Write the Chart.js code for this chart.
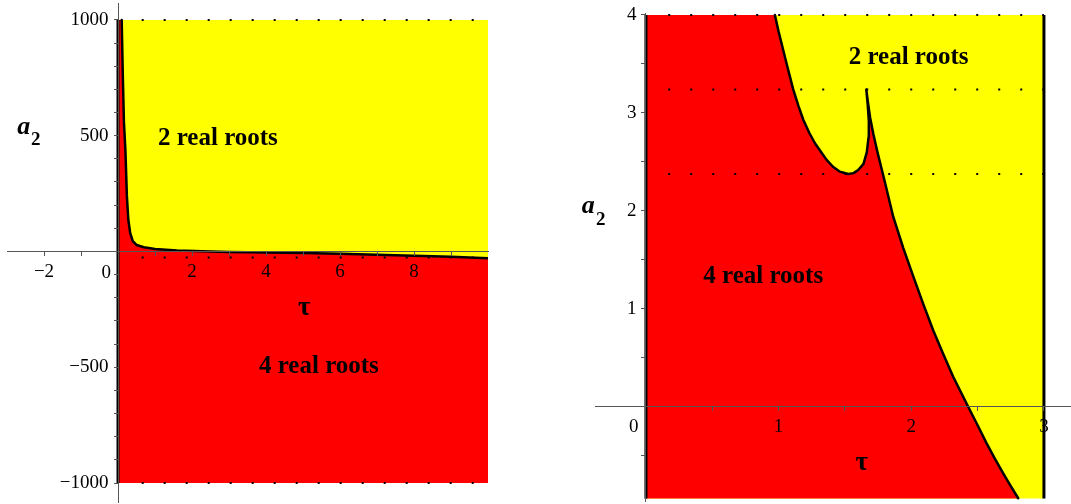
<!DOCTYPE html>
<html><head><meta charset="utf-8">
<script src="https://cdn.jsdelivr.net/npm/chart.js@4"></script>
<style>
html,body{margin:0;padding:0;background:#fff;}
#wrap{position:relative;width:1071px;height:504px;overflow:hidden;background:#fff;}
canvas{position:absolute;}
#cL{left:-30px;top:-30px;}
#cR{left:530px;top:-30px;}
</style></head><body>
<div id="wrap"><canvas id="cL" width="600" height="564"></canvas><canvas id="cR" width="571" height="564"></canvas></div>
<script>
// ---------- Left panel (wide view) ----------
const leftTau = [0.10, 0.13, 0.16, 0.20, 0.24, 0.28, 0.33, 0.40, 0.50, 0.70, 1.0, 1.6, 2.5, 3, 4, 5, 6, 7, 8, 9, 10];
const leftA2  = [1000, 760, 560, 438, 240, 136, 79, 45, 28, 18, 11, 4, 0, -2, -4, -7, -10, -14, -18, -23, -29];
const leftRegionTau = [0, 10];
const leftRegionA2 = [-1000, 1000];
const leftWallTau = [0];
const leftDotTau = [0.64, 9.8];
const leftDotLevels = [1000, -1000, -26];
const leftXTicks = [-2, -1, 1, 2, 3, 4, 5, 6, 7, 8, 9];
const leftXTickLabels = ['\u22122', '', '', '2', '', '4', '', '6', '', '8', ''];
const leftYTicks = [-1000, -900, -800, -700, -600, -500, -400, -300, -200, -100, 100, 200, 300, 400, 500, 600, 700, 800, 900, 1000];
const leftYTickLabels = ['\u22121000', '', '', '', '', '\u2212500', '', '', '', '', '', '', '', '', '500', '', '', '', '', '1000'];

// ---------- Right panel (zoomed view) ----------
const rightTau = [0.972, 1.0, 1.035, 1.07, 1.110, 1.15, 1.186, 1.23, 1.274, 1.32, 1.362, 1.41, 1.462, 1.525, 1.565, 1.600, 1.640, 1.665, 1.678, 1.680, 1.672, 1.661,
                  1.672, 1.690, 1.715, 1.745, 1.800, 1.864, 1.94, 2.015, 2.09, 2.165, 2.24, 2.316, 2.429, 2.50, 2.568, 2.63, 2.693, 2.75, 2.806];
const rightA2  = [4.0, 3.83, 3.64, 3.45, 3.24, 3.07, 2.93, 2.80, 2.69, 2.60, 2.52, 2.45, 2.40, 2.376, 2.385, 2.417, 2.48, 2.60, 2.75, 2.92, 3.08, 3.24,
                  3.12, 2.95, 2.78, 2.60, 2.30, 1.94, 1.62, 1.33, 1.05, 0.78, 0.54, 0.306, 0.0, -0.19, -0.374, -0.53, -0.68, -0.81, -0.935];
const rightRegionTau = [0, 3];
const rightRegionA2 = [-0.937, 4];
const rightWallTau = [0, 3];
const rightDotTau = [0.168, 3];
const rightDotLevels = [4, 3.24, 2.376];
const rightXTicks = [0.5, 1, 1.5, 2, 2.5, 3];
const rightXTickLabels = ['', '1', '', '2', '', '3'];
const rightYTicks = [-0.5, 0.5, 1, 1.5, 2, 2.5, 3, 3.5, 4];
const rightYTickLabels = ['', '', '1', '', '2', '', '3', '', '4'];

const SERIF = '"Liberation Serif", "Times New Roman", serif';
const YELLOW = '#ffff00', RED = '#ff0000', AXIS = '#555555';
const GAP = '\u2002'; // spacing between y tick labels and the axis line

function buildDatasets(tau, a2, regTau, regA2, walls, dotTau, dotLevels) {
  const curve = tau.map((t, i) => ({x: t, y: a2[i]}));
  const ds = [];
  ds.push({label: '2 real roots', data: [{x: regTau[0], y: regA2[1]}, {x: regTau[1], y: regA2[1]}],
    borderColor: 'rgba(0,0,0,0)', borderWidth: 0, pointRadius: 0, backgroundColor: YELLOW, fill: {value: regA2[0]}, order: 5});
  ds.push({label: '4 real roots', data: [{x: regTau[0], y: regA2[1]}].concat(curve),
    borderColor: 'rgba(0,0,0,0)', borderWidth: 0, pointRadius: 0, backgroundColor: RED, fill: {value: regA2[0]}, order: 4});
  dotLevels.forEach(l => ds.push({label: 'dots', data: [{x: dotTau[0], y: l}, {x: dotTau[1], y: l}],
    borderColor: '#000', borderWidth: 2, borderDash: [2, 20], borderCapStyle: 'butt', pointRadius: 0, fill: false, order: 3}));
  ds.push({label: 'boundary', data: curve, borderColor: '#000', borderWidth: 2.5, pointRadius: 0, fill: false, order: 1,
    borderJoinStyle: 'round', borderCapStyle: 'round'});
  walls.forEach(w => ds.push({label: 'wall', data: [{x: w, y: regA2[0]}, {x: w, y: regA2[1]}],
    borderColor: '#000', borderWidth: 3, pointRadius: 0, fill: false, order: 2}));
  return ds;
}

function axisOpts(min, max, pos, ticks, labels, suffix) {
  return {
    type: 'linear', min: min, max: max, position: pos,
    afterBuildTicks: s => { s.ticks = ticks.map(v => ({value: v})); },
    ticks: {callback: (v, i) => labels[i] ? labels[i] + suffix : '', font: {family: SERIF, size: 19}, color: '#000', padding: 5, z: 1,
      autoSkip: false, maxRotation: 0, minRotation: 0},
    grid: {drawOnChartArea: false, drawTicks: true, tickLength: 4, color: AXIS, tickColor: AXIS, z: 1},
    border: {display: true, color: AXIS, width: 1, z: 1}
  };
}

const annPlugin = {
  id: 'ann',
  afterDraw(chart, args, opts) {
    const {ctx} = chart;
    const x = chart.scales.x, y = chart.scales.y;
    ctx.save();
    ctx.fillStyle = '#000';
    ctx.textAlign = 'center';
    ctx.textBaseline = 'alphabetic';
    for (const a of opts.items) {
      ctx.font = a.font;
      ctx.fillText(a.text, x.getPixelForValue(a.tau), y.getPixelForValue(a.a2));
    }
    ctx.restore();
  }
};

const LBL = 'bold 25px ' + SERIF;
const AFONT = 'italic bold 26px ' + SERIF;
const SUB = 'bold 19px ' + SERIF;
const TAUF = 'bold 27px ' + SERIF;
const TICKF = '19px ' + SERIF;

function makeChart(id, cfg) {
  return new Chart(document.getElementById(id), {
    type: 'line',
    data: {datasets: buildDatasets(cfg.tau, cfg.a2, cfg.regTau, cfg.regA2, cfg.walls, cfg.dotTau, cfg.dotLevels)},
    options: {
      responsive: false, animation: false, events: [],
      layout: {padding: cfg.padding},
      scales: {
        x: axisOpts(cfg.xMin, cfg.xMax, {y: 0}, cfg.xTicks, cfg.xLabels, ''),
        y: axisOpts(cfg.yMin, cfg.yMax, {x: 0}, cfg.yTicks, cfg.yLabels, GAP)
      },
      plugins: {legend: {display: false}, tooltip: {enabled: false}, ann: {items: cfg.ann}}
    },
    plugins: [annPlugin]
  });
}

makeChart('cL', {
  tau: leftTau, a2: leftA2, regTau: leftRegionTau, regA2: leftRegionA2, walls: leftWallTau,
  dotTau: leftDotTau, dotLevels: leftDotLevels,
  padding: {left: 37, right: 82, top: 33, bottom: 32},
  xMin: -3, xMax: 10, yMin: -1082, yMax: 1073,
  xTicks: leftXTicks, xLabels: leftXTickLabels, yTicks: leftYTicks, yLabels: leftYTickLabels,
  ann: [
    {text: '2 real roots', tau: 2.70, a2: 458, font: LBL},
    {text: '4 real roots', tau: 5.43, a2: -525, font: LBL},
    {text: '\u03c4', tau: 5.03, a2: -274, font: TAUF},
    {text: 'a', tau: -2.55, a2: 507, font: AFONT},
    {text: '2', tau: -2.22, a2: 460, font: SUB},
    {text: '0', tau: -0.32, a2: -114, font: TICKF}
  ]
});

makeChart('cR', {
  tau: rightTau, a2: rightA2, regTau: rightRegionTau, regA2: rightRegionA2, walls: rightWallTau,
  dotTau: rightDotTau, dotLevels: rightDotLevels,
  padding: {left: 65, right: 30, top: 43, bottom: 33},
  xMin: -0.384, xMax: 3.204, yMin: -0.963, yMax: 4.02,
  xTicks: rightXTicks, xLabels: rightXTickLabels, yTicks: rightYTicks, yLabels: rightYTickLabels,
  ann: [
    {text: '2 real roots', tau: 1.98, a2: 3.50, font: LBL},
    {text: '4 real roots', tau: 0.884, a2: 1.266, font: LBL},
    {text: '\u03c4', tau: 1.626, a2: -0.646, font: TAUF},
    {text: 'a', tau: -0.435, a2: 1.975, font: AFONT},
    {text: '2', tau: -0.340, a2: 1.857, font: SUB},
    {text: '0', tau: -0.092, a2: -0.255, font: TICKF}
  ]
});
</script>
</body></html>
